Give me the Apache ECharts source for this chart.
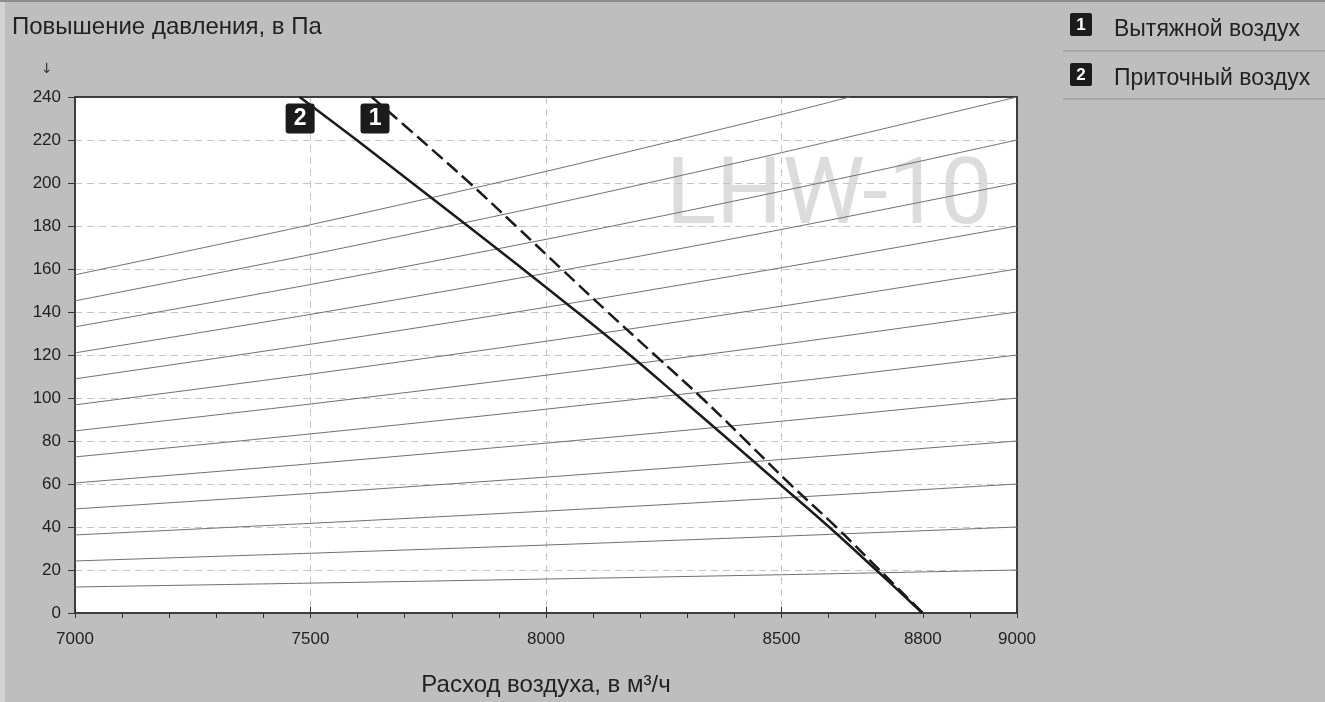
<!DOCTYPE html>
<html>
<head>
<meta charset="utf-8">
<script src="https://cdn.jsdelivr.net/npm/echarts@6/dist/echarts.min.js"></script>
<style>
  html, body { margin: 0; padding: 0; background: #bebebf; }
  #chart { width: 1325px; height: 702px; }
</style>
</head>
<body>
<div id="chart"></div>
<script>
// tick labels shown on the flow axis
const xLabels = [7000, 7500, 8000, 8500, 8800, 9000]

// system curves (thin grey), read at these flow values
const systemQ = [7000, 7500, 8000, 8500, 9000]
const systemP = [
    [12.1, 13.9, 15.8, 17.8, 20],
    [24.2, 27.8, 31.6, 35.7, 40],
    [36.3, 41.7, 47.4, 53.5, 60],
    [48.4, 55.6, 63.2, 71.4, 80],
    [60.5, 69.4, 79.0, 89.2, 100],
    [72.6, 83.3, 94.8, 107.0, 120],
    [84.7, 97.2, 110.6, 124.9, 140],
    [96.8, 111.1, 126.4, 142.7, 160],
    [108.9, 125.0, 142.2, 160.6, 180],
    [121.0, 138.9, 158.0, 178.4, 200],
    [133.1, 152.8, 173.8, 196.2, 220],
    [145.2, 166.7, 189.6, 214.1, 240]
]
// the top one leaves the chart through the 240 line
const topSystemQ = [7000, 7500, 8000, 8500, 8645]
const topSystemP = [157.3, 180.6, 205.4, 231.9, 240]

// fan curves
const fanP = [240, 220, 200, 180, 160, 140, 120, 100, 80, 60, 40, 20, 0]
const exhaustQ = [7630, 7735, 7838, 7936, 8033, 8131, 8231, 8331, 8425, 8518, 8616, 8708, 8800]
const supplyQ = [7477, 7598, 7716, 7834, 7951, 8066, 8178, 8285, 8391, 8496, 8601, 8701, 8799]

const zip = (q, p) => q.map((v, i) => [v, p[i]])

const FONT = '"Liberation Sans", Arial, sans-serif'

let series = []
systemP.forEach((p) => {
    series.push({
        type: 'line', data: zip(systemQ, p), smooth: 0.3, symbol: 'none', silent: true,
        lineStyle: {color: '#707070', width: 1}, z: 2
    })
})
series.push({
    type: 'line', data: zip(topSystemQ, topSystemP), smooth: 0.3, symbol: 'none', silent: true,
    lineStyle: {color: '#707070', width: 1}, z: 2
})

const numberBox = (coord, text) => ({
    symbol: 'path://M1,0 H9 Q10,0 10,1 V9 Q10,10 9,10 H1 Q0,10 0,9 V1 Q0,0 1,0 Z',
    symbolSize: [29, 30],
    silent: true,
    itemStyle: {color: '#1b1b1b'},
    label: {show: true, formatter: text, color: '#fff', fontSize: 23, fontWeight: 'bold', fontFamily: FONT},
    data: [{coord: coord}]
})

series.push({
    name: 'Приточный воздух',
    type: 'line', data: zip(supplyQ, fanP), smooth: 0.4, symbol: 'none', silent: true,
    lineStyle: {color: '#1b1b1b', width: 2.5}, z: 3,
    markPoint: numberBox([7478, 230], '2')
})
series.push({
    name: 'Вытяжной воздух',
    type: 'line', data: zip(exhaustQ, fanP), smooth: 0.4, symbol: 'none', silent: true,
    lineStyle: {color: '#1b1b1b', width: 2.5, type: [14, 6]}, z: 3,
    markPoint: numberBox([7637, 230], '1')
})

const gridDash = {color: '#c4c4c4', width: 1, type: [7, 5]}

let chart = echarts.init(document.getElementById('chart'))
chart.setOption({
    backgroundColor: '#bebebf',
    animation: false,
    textStyle: {fontFamily: FONT},
    grid: {
        left: 75, right: 308, top: 97, bottom: 88,
        show: true, backgroundColor: '#ffffff', borderColor: '#333', borderWidth: 1.5, z: -2
    },
    xAxis: [{
        type: 'value', min: 7000, max: 9000, interval: 100, position: 'bottom',
        name: 'Расход воздуха, в м³/ч', nameLocation: 'middle', nameGap: 60,
        nameTextStyle: {fontSize: 24, color: '#222', fontFamily: FONT},
        axisLine: {lineStyle: {color: '#333', width: 1.5}},
        axisTick: {length: 5, lineStyle: {color: '#333'}},
        axisLabel: {
            margin: 18, fontSize: 17, color: '#222', fontFamily: FONT,
            formatter: (v) => xLabels.includes(v) ? String(v) : ''
        },
        splitLine: {show: false}
    }, {
        type: 'value', min: 7000, max: 9000, interval: 500, position: 'bottom', offset: 0,
        axisLine: {show: false},
        axisTick: {inside: true, length: 6, lineStyle: {color: '#333'}},
        axisLabel: {show: false},
        splitLine: {show: true, showMinLine: false, showMaxLine: false, lineStyle: gridDash}
    }, {
        type: 'value', min: 7000, max: 9000, position: 'top',
        axisLine: {show: true, lineStyle: {color: '#333', width: 1.5}},
        axisTick: {show: false}, axisLabel: {show: false}, splitLine: {show: false}
    }],
    yAxis: [{
        type: 'value', min: 0, max: 240, interval: 20,
        axisLine: {show: true, lineStyle: {color: '#333', width: 1.5}},
        axisTick: {show: true, length: 7, lineStyle: {color: '#333'}},
        axisLabel: {margin: 14, fontSize: 17, color: '#222', fontFamily: FONT},
        splitLine: {show: true, showMinLine: false, showMaxLine: false, lineStyle: gridDash}
    }, {
        type: 'value', min: 0, max: 240, position: 'right',
        axisLine: {show: true, lineStyle: {color: '#333', width: 1.5}},
        axisTick: {show: false}, axisLabel: {show: false}, splitLine: {show: false}
    }],
    graphic: [
        {type: 'rect', left: 0, top: 0, shape: {width: 5, height: 702}, style: {fill: '#d2d2d3'}, silent: true},
        {type: 'rect', left: 0, top: 0, shape: {width: 1325, height: 2}, style: {fill: '#8c8c8c'}, silent: true},
        {type: 'text', left: 12, top: 15, silent: true,
            style: {text: 'Повышение давления, в Па', fontSize: 24, fill: '#222', fontFamily: FONT}},
        {type: 'text', left: 41, top: 62, silent: true,
            style: {text: '↓', fontSize: 14, fill: '#333', fontFamily: '"DejaVu Sans", sans-serif'}},
        {type: 'text', x: 666, y: 200, z: -1, silent: true,
            style: {text: 'LHW-10', fontSize: 93, fontWeight: 'normal', fill: '#dcdcdd',
                fontFamily: 'Roboto, "Liberation Sans", sans-serif', verticalAlign: 'middle'}},
        // legend
        {type: 'rect', left: 1070, top: 13, shape: {width: 22, height: 23, r: 2}, style: {fill: '#1b1b1b'}, silent: true},
        {type: 'text', x: 1081, y: 25, silent: true,
            style: {text: '1', fontSize: 17, fontWeight: 'bold', fill: '#fff', fontFamily: FONT, align: 'center', verticalAlign: 'middle'}},
        {type: 'text', x: 1114, y: 30, silent: true,
            style: {text: 'Вытяжной воздух', fontSize: 23, fill: '#222', fontFamily: FONT, verticalAlign: 'middle'}},
        {type: 'line', shape: {x1: 1063, y1: 51, x2: 1325, y2: 51}, style: {stroke: '#939393', lineWidth: 1}, silent: true},
        {type: 'rect', left: 1070, top: 63, shape: {width: 22, height: 23, r: 2}, style: {fill: '#1b1b1b'}, silent: true},
        {type: 'text', x: 1081, y: 75, silent: true,
            style: {text: '2', fontSize: 17, fontWeight: 'bold', fill: '#fff', fontFamily: FONT, align: 'center', verticalAlign: 'middle'}},
        {type: 'text', x: 1114, y: 79, silent: true,
            style: {text: 'Приточный воздух', fontSize: 23, fill: '#222', fontFamily: FONT, verticalAlign: 'middle'}},
        {type: 'line', shape: {x1: 1063, y1: 99, x2: 1325, y2: 99}, style: {stroke: '#939393', lineWidth: 1}, silent: true}
    ],
    series: series
})

window.addEventListener('resize', () => {
    chart.resize()
})
</script>
</body>
</html>
